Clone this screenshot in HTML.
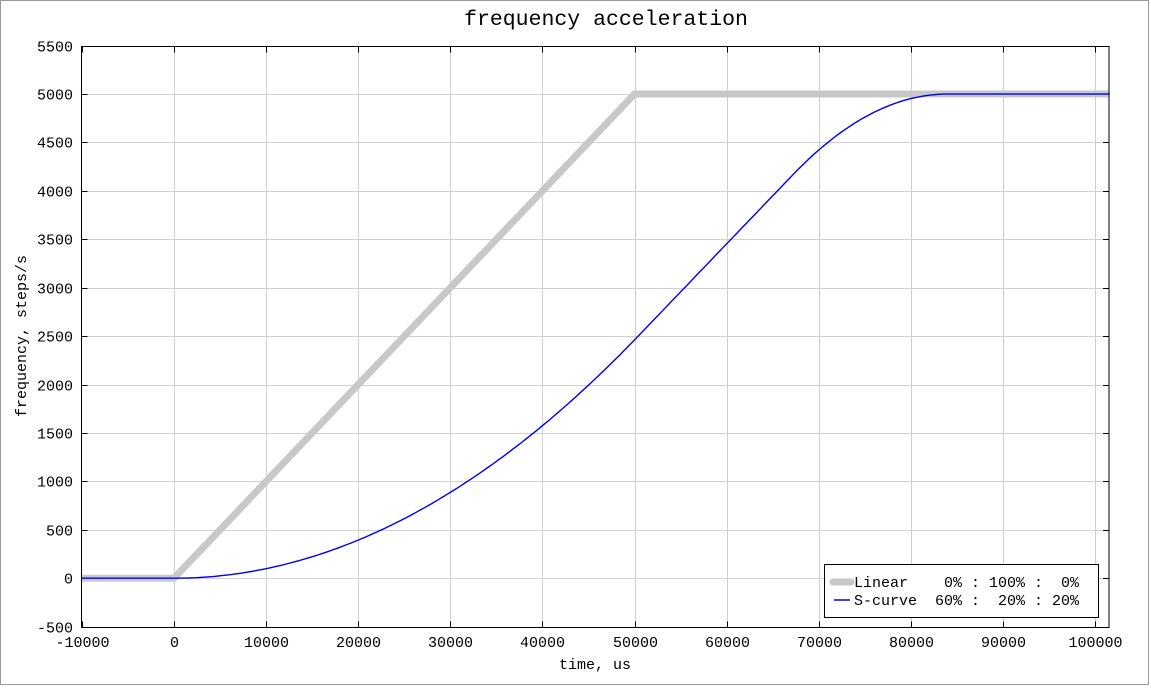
<!DOCTYPE html>
<html><head><meta charset="utf-8"><style>
body{margin:0;background:#fff;}
svg text{font-family:"Liberation Mono","DejaVu Sans Mono",monospace;font-size:15px;fill:#000;}
</style></head><body>
<svg id="s" width="1151" height="686" xmlns="http://www.w3.org/2000/svg">
<rect x="0.5" y="0.5" width="1148" height="684" fill="#fff" stroke="#999"/>
<g id="g"></g>
<text x="606" y="25" text-anchor="middle" style="font-size:21.5px">frequency acceleration</text>
<text x="595" y="669" text-anchor="middle">time, us</text>
<text transform="translate(26,336) rotate(-90)" text-anchor="middle">frequency, steps/s</text>
</svg>
<script>
var NS="http://www.w3.org/2000/svg",g=document.getElementById('g');
function X(t){return 174+(t)*0.00921;}
function Y(f){return 578.2-f*0.09683;}
function el(n,a,txt){var e=document.createElementNS(NS,n);for(var k in a)e.setAttribute(k,a[k]);if(txt!=null)e.textContent=txt;g.appendChild(e);return e;}
var L=81.5,R=1109,T=46.5,B=627.5;
for(var t=-10000;t<=100000;t+=10000){var x=Math.round(X(t))+0.5;
 if(t>-10000)el('line',{x1:x,x2:x,y1:T,y2:B,stroke:'#d0d0d0'});
 el('line',{x1:x,x2:x,y1:B,y2:B-6,stroke:'#000'});el('line',{x1:x,x2:x,y1:T,y2:T+6,stroke:'#000'});
 el('text',{x:x,y:647,'text-anchor':'middle'},String(t));}
for(var f=-500;f<=5500;f+=500){var y=Math.round(Y(f))+0.5;
 if(f>-500&&f<5500)el('line',{x1:L,x2:R,y1:y,y2:y,stroke:'#d0d0d0'});
 el('line',{x1:L,x2:L+6,y1:y,y2:y,stroke:'#000'});el('line',{x1:R,x2:R-6,y1:y,y2:y,stroke:'#000'});
 el('text',{x:73,y:y+5,'text-anchor':'end'},String(f));}
el('polyline',{points:[L,Y(0),X(0),Y(0),X(50000),Y(5000),R,Y(5000)].join(' '),fill:'none',stroke:'#c8c8c8','stroke-width':7,'stroke-linejoin':'round'});
var Tt=84000,T1=0.6*Tt,T2=0.8*Tt,k=2500/(T1*T1),s=2*k*T1,pts=[L+','+Y(0)];
for(var t=0;t<=101600;t+=400){var f;
 if(t<T1)f=k*t*t;else if(t<T2)f=k*T1*T1+s*(t-T1);else if(t<Tt){var d=t-T2,D=Tt-T2;f=k*T1*T1+s*(T2-T1)+s*d-s/(2*D)*d*d;}else f=5000;
 pts.push(X(t).toFixed(1)+','+Y(f).toFixed(1));}
el('polyline',{points:pts.join(' '),fill:'none',stroke:'#0000ee','stroke-width':1.4});
el('rect',{x:L,y:T,width:R-L,height:B-T,fill:'none',stroke:'#000'});
el('rect',{x:824.5,y:564.5,width:274,height:53,fill:'#fff',stroke:'#000'});
el('line',{x1:833,x2:851,y1:582,y2:582,stroke:'#c8c8c8','stroke-width':7,'stroke-linecap':'round'});
el('line',{x1:834,x2:850,y1:600,y2:600,stroke:'#0000ee','stroke-width':1.5});
var t1=el('text',{x:854,y:587},'Linear    0% : 100% :  0%');t1.style.whiteSpace='pre';
var t2=el('text',{x:854,y:605},'S-curve  60% :  20% : 20%');t2.style.whiteSpace='pre';
</script>
</body></html>
